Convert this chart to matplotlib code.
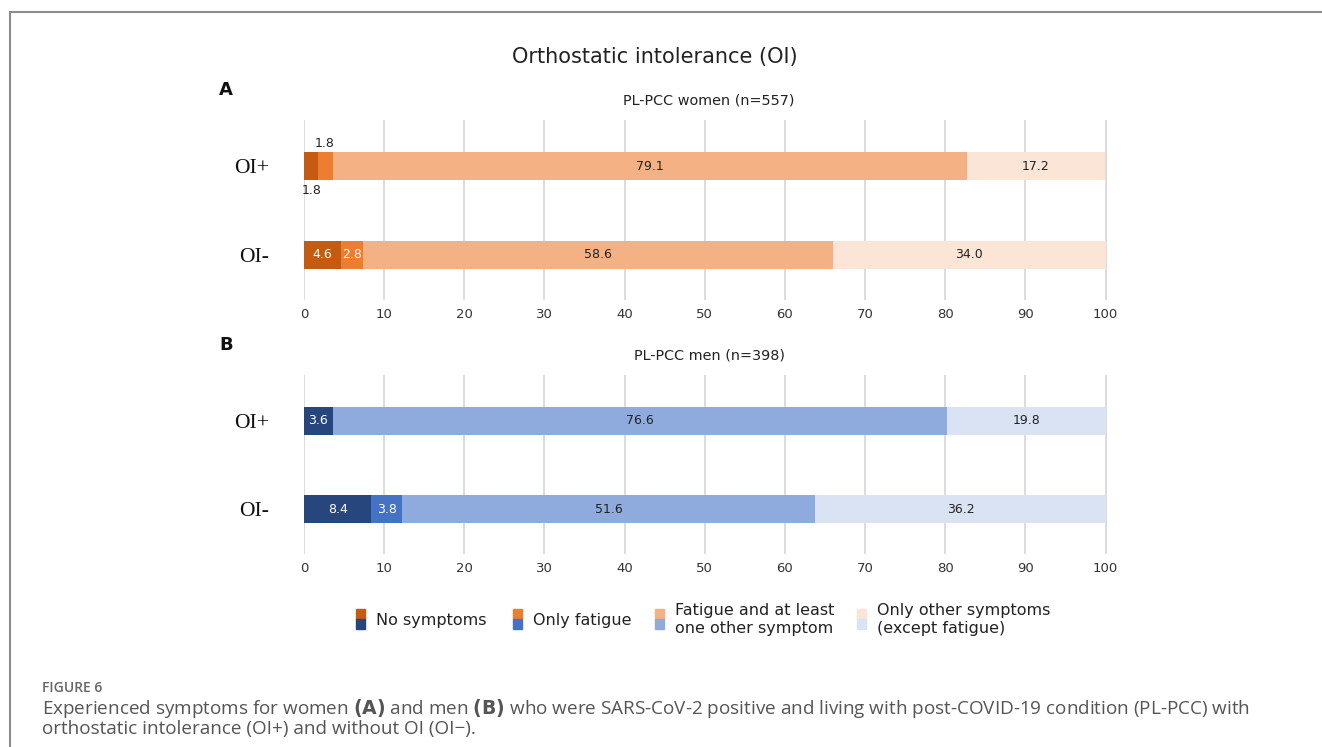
import matplotlib
matplotlib.use("Agg")
import matplotlib.pyplot as plt
from matplotlib.patches import Rectangle
from matplotlib.lines import Line2D
import numpy as np

groups = ["OI+", "OI-"]
categories = ["No symptoms", "Only fatigue", "Fatigue and at least\none other symptom",
              "Only other symptoms\n(except fatigue)"]
women = {
    "No symptoms": [1.8, 4.6],
    "Only fatigue": [1.8, 2.8],
    "Fatigue and other": [79.1, 58.6],
    "Only other": [17.2, 34.0],
}
men = {
    "No symptoms": [3.6, 8.4],
    "Only fatigue": [0.0, 3.8],
    "Fatigue and other": [76.6, 51.6],
    "Only other": [19.8, 36.2],
}
xticks = [0, 10, 20, 30, 40, 50, 60, 70, 80, 90, 100]

women_colors = ["#C55A11", "#ED7D31", "#F4B183", "#FBE5D6"]
men_colors = ["#27467E", "#4472C4", "#8FAADC", "#DAE3F3"]
label_colors = ["white", "white", "#222222", "#222222"]

W, H = 1322, 747
fig = plt.figure(figsize=(W / 100, H / 100), dpi=100)

def fx(px):
    return px / W

def fy(py):
    return 1 - py / H

# frame lines
fig.add_artist(Line2D([fx(10), 1.0], [fy(12), fy(12)], color="#8c8c8c", lw=1.5))
fig.add_artist(Line2D([fx(10), fx(10)], [fy(12), 0], color="#8c8c8c", lw=1.5))

fig.text(fx(655), fy(57), "Orthostatic intolerance (OI)", ha="center", va="center",
         fontsize=15, color="#222222", family="DejaVu Sans")


def draw_panel(top_px, bottom_px, data, colors, letter, subtitle, women_panel):
    ax = fig.add_axes([fx(304), fy(bottom_px), fx(1108) - fx(304), (bottom_px - top_px) / H])
    keys = list(data.keys())
    ypos = np.arange(len(groups))
    left = np.zeros(len(groups))
    for k, key in enumerate(keys):
        vals = np.array(data[key])
        ax.barh(ypos, vals, left=left, height=0.315, color=colors[k], zorder=3, linewidth=0)
        for i, v in enumerate(vals):
            if v <= 0:
                continue
            cx = left[i] + v / 2
            if women_panel and i == 0 and k in (0, 1):
                # small values labelled outside
                if k == 0:
                    ax.text(left[i] + 1.0, ypos[i] + 0.28, f"{v:.1f}", ha="center", va="center",
                            fontsize=9, color="#222222")
                else:
                    ax.text(left[i] + 0.8, ypos[i] - 0.26, f"{v:.1f}", ha="center", va="center",
                            fontsize=9, color="#222222")
            else:
                ax.text(cx, ypos[i], f"{v:.1f}", ha="center", va="center", fontsize=9,
                        color=label_colors[k], zorder=4)
        left = left + vals
    ax.set_xlim(0, 100.3)
    ax.set_ylim(1.51, -0.52)
    ax.set_xticks(xticks)
    ax.set_xticklabels([str(t) for t in xticks], fontsize=9.5, color="#333333")
    ax.set_yticks(ypos)
    ax.set_yticklabels(groups, fontsize=15.5, family="Liberation Serif", color="#111111")
    ax.tick_params(axis="both", length=0)
    ax.tick_params(axis="x", pad=6)
    ax.tick_params(axis="y", pad=25)
    for s in ax.spines.values():
        s.set_visible(False)
    ax.grid(axis="x", color="#d9d9d9", lw=1.3, zorder=0)
    ax.set_axisbelow(True)
    fig.text(fx(226), fy(top_px - 30), letter, fontsize=13, fontweight="bold", ha="center",
             va="center", color="#111111")
    fig.text(fx(709), fy(top_px - 19), subtitle, fontsize=10.4, ha="center", va="center",
             color="#222222")
    return ax


draw_panel(120, 300, women, women_colors, "A", "PL-PCC women (n=557)", True)
draw_panel(375, 554, men, men_colors, "B", "PL-PCC men (n=398)", False)

# legend
leg_x = [356, 513, 655, 857]
for k, lab in enumerate(categories):
    x0 = leg_x[k]
    fig.add_artist(Rectangle((fx(x0), fy(619)), fx(9), 10 / H, color=women_colors[k],
                             transform=fig.transFigure))
    fig.add_artist(Rectangle((fx(x0), fy(629)), fx(9), 10 / H, color=men_colors[k],
                             transform=fig.transFigure))
    fig.text(fx(x0 + 20), fy(620), lab, fontsize=11.5, ha="left", va="center",
             color="#222222", linespacing=1.25)

# caption
fig.text(fx(42), fy(688), "FIGURE 6", fontsize=10, color="#666666", ha="left", va="center",
         family="Open Sans", fontweight="semibold")
fig.text(fx(42), fy(709),
         "Experienced symptoms for women $\\bf{(A)}$ and men $\\bf{(B)}$ who were SARS-CoV-2 positive "
         "and living with post-COVID-19 condition (PL-PCC) with",
         fontsize=13.6, color="#555555", ha="left", va="center", family="Open Sans")
fig.text(fx(42), fy(729), "orthostatic intolerance (OI+) and without OI (OI\u2212).",
         fontsize=13.6, color="#555555", ha="left", va="center", family="Open Sans")

fig.savefig("out.png", dpi=100)
